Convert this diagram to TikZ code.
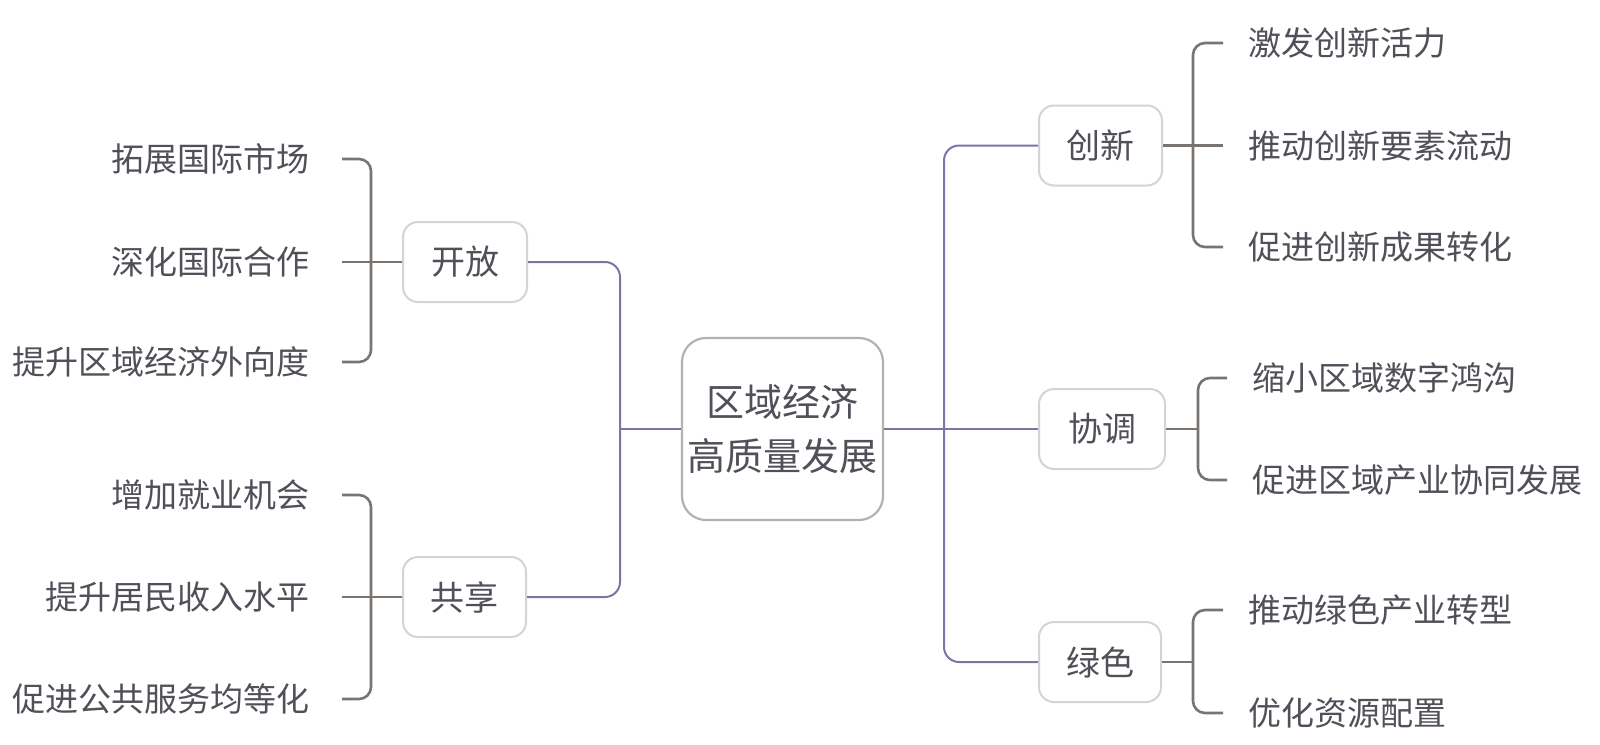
\documentclass[tikz,border=0pt]{standalone}
\usepackage{fontspec}
\newfontfamily\cjk{Noto Sans CJK SC}
\definecolor{txt}{HTML}{505059}
\definecolor{purp}{HTML}{7B75A3}
\definecolor{brk}{HTML}{7A7470}
\definecolor{boxb}{HTML}{D4D4D4}
\definecolor{cboxb}{HTML}{B2B2B2}
\tikzset{
  topic/.style={draw=boxb, line width=2pt, rounded corners=15pt, fill=white, text=txt,
    font=\cjk\fontsize{34}{40}\selectfont, inner sep=0pt, minimum height=80pt},
  central/.style={draw=cboxb, line width=2.2pt, rounded corners=24pt, fill=white, text=txt,
    font=\cjk\fontsize{38}{54}\selectfont, align=center, inner sep=0pt,
    minimum width=201pt, minimum height=182pt},
  leafL/.style={anchor=east, text=txt, font=\cjk\fontsize{33}{39}\selectfont, inner xsep=32pt, inner ysep=0pt},
  leafR/.style={anchor=west, text=txt, font=\cjk\fontsize{33}{39}\selectfont, inner xsep=25pt, inner ysep=0pt},
  mainline/.style={draw=purp, line width=2pt, rounded corners=15pt},
  brline/.style={draw=brk, line width=2.6pt, rounded corners=12pt},
}
\begin{document}
\begin{tikzpicture}[x=1pt,y=-1pt]
\useasboundingbox (0,0) rectangle (1600,744);
% central
\node[central] (c) at (782.5,429) {区域经济\\高质量发展};
% topics
\node[topic, minimum width=124pt] (kf) at (465,262) {开放};
\node[topic, minimum width=123pt] (gx) at (464.5,597) {共享};
\node[topic, minimum width=123pt] (cx) at (1100.5,145.5) {创新};
\node[topic, minimum width=126pt] (xt) at (1102,429) {协调};
\node[topic, minimum width=122pt] (ls) at (1100,662) {绿色};
% left leaves
\node[leafL] (a1) at (342,159) {拓展国际市场};
\node[leafL] (a2) at (342,262) {深化国际合作};
\node[leafL] (a3) at (342,362) {提升区域经济外向度};
\node[leafL] (b1) at (342,495) {增加就业机会};
\node[leafL] (b2) at (342,597) {提升居民收入水平};
\node[leafL] (b3) at (342,699) {促进公共服务均等化};
% right leaves
\node[leafR] (r1) at (1223,43) {激发创新活力};
\node[leafR] (r2) at (1223,145.5) {推动创新要素流动};
\node[leafR] (r3) at (1223,247) {促进创新成果转化};
\node[leafR] (s1) at (1227,378) {缩小区域数字鸿沟};
\node[leafR] (s2) at (1227,480) {促进区域产业协同发展};
\node[leafR] (t1) at (1223,610) {推动绿色产业转型};
\node[leafR] (t2) at (1223,713) {优化资源配置};
% coordinates
\coordinate (lj) at (620,429);
\coordinate (rj) at (944,429);
\coordinate (kb) at (371,262);
\coordinate (gb) at (371,597);
\coordinate (cb) at (1193,145.5);
\coordinate (xb) at (1198,429);
\coordinate (lb) at (1193,662);
% main connectors
\draw[mainline] (kf.east) -- (kf.east -| lj) -- (gx.east -| lj) -- (gx.east);
\draw[mainline] (c.west) -- (lj);
\draw[mainline] (cx.west) -- (cx.west -| rj) -- (ls.west -| rj) -- (ls.west);
\draw[mainline] (c.east) -- (xt.west);
% brackets left
\draw[brline] (a1.east) -- (a1.east -| kb) -- (a3.east -| kb) -- (a3.east);
\draw[brline] (a2.east) -- (kf.west);
\draw[brline] (b1.east) -- (b1.east -| gb) -- (b3.east -| gb) -- (b3.east);
\draw[brline] (b2.east) -- (gx.west);
% brackets right
\draw[brline] (r1.west) -- (r1.west -| cb) -- (r3.west -| cb) -- (r3.west);
\draw[brline] (cx.east) -- (r2.west);
\draw[brline] (s1.west) -- (s1.west -| xb) -- (s2.west -| xb) -- (s2.west);
\draw[brline] (xt.east) -- (xb);
\draw[brline] (t1.west) -- (t1.west -| lb) -- (t2.west -| lb) -- (t2.west);
\draw[brline] (ls.east) -- (lb);
\end{tikzpicture}
\end{document}
